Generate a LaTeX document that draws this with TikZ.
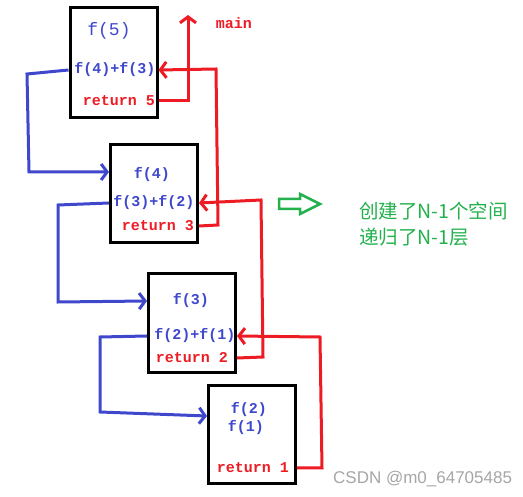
\documentclass[tikz,border=0pt]{standalone}
\usepackage{fontspec}
\setmonofont{Liberation Mono}
\setsansfont{Liberation Sans}
\newfontfamily\cjk{Noto Sans CJK SC}
\usetikzlibrary{arrows.meta}
\definecolor{penblue}{RGB}{63,72,204}
\definecolor{penred}{RGB}{237,28,36}
\definecolor{pengreen}{RGB}{34,177,76}

\begin{document}
\begin{tikzpicture}[x=1pt,y=-1pt,
    frame/.style={draw,line width=3pt,minimum width=87pt,inner sep=0pt},
    code/.style={font=\ttfamily\bfseries\fontsize{15}{17}\selectfont,inner sep=0pt},
    callline/.style={penblue,line width=3pt,-{Straight Barb[length=6pt,width=16pt]}},
    retline/.style={penred,line width=3pt,-{Straight Barb[length=6pt,width=16pt]}}]
  \useasboundingbox (0,0) rectangle (523,497);

  %stack frames
  \node[frame,minimum height=110pt] (b5) at (113.5,63) {};
  \node[frame,minimum height=98pt] (b4) at (154,194) {};
  \node[frame,minimum height=99pt] (b3) at (192,323.5) {};
  \node[frame,minimum height=98pt] (b2) at (252,435) {};

  %texts in the frames
  \node[code,penblue,font=\ttfamily\fontsize{18}{20}\selectfont] (t5) at (109,31) {f(5)};
  \node[code,penblue] (c5) at (115,70) {f(4)+f(3)};
  \node[code,penred] (r5) at (119,101) {return 5};
  \node[code,penblue] (t4) at (152,175) {f(4)};
  \node[code,penblue] (c4) at (154,203) {f(3)+f(2)};
  \node[code,penred] (r4) at (158,226) {return 3};
  \node[code,penblue] (t3) at (191,301) {f(3)};
  \node[code,penblue] (c3) at (195,336) {f(2)+f(1)};
  \node[code,penred] (r3) at (192,358) {return 2};
  \node[code,penblue] (t2) at (249,410) {f(2)};
  \node[code,penblue] (c2) at (246,428) {f(1)};
  \node[code,penred] (r2) at (253,468) {return 1};
  \node[code,penred] (main) at (234,23) {main};

  %calls
  \draw[callline] (b5.west |- c5) -- (27,74) -- (29,172) -- (b4.west |- 0,172);
  \draw[callline] (b4.west |- c4) -- (58,205) -- (58,302) -- (b3.west |- t3);
  \draw[callline] (b3.west |- c3) -- (100,337) -- (100,412) -- (b2.west |- 0,416);

  %returns
  \draw[retline] (b5.east |- r5) -| (188,15);
  \draw[retline] (b4.east |- r4) -- (218,225) -- (216,69) -- (b5.east |- c5);
  \draw[retline] (b3.east |- r3) -- (263,357) -- (261,200) -- (b4.east |- c4);
  \draw[retline] (b2.east |- r2) -- (322,468) -- (320,337) -- (b3.east |- c3);

  %note
  \draw[pengreen,line width=2.5pt,line join=miter] (279,199) -- (300,199) -- (300,194)
    -- (320,204) -- (300,214) -- (300,209) -- (279,209) -- cycle;
  \node[pengreen,anchor=west,inner sep=0pt,font=\cjk\fontsize{19.5}{22}\selectfont] (n1) at (359,211) {创建了N-1个空间};
  \node[pengreen,anchor=west,inner sep=0pt,font=\cjk\fontsize{19.5}{22}\selectfont] (n2) at (359,237) {递归了N-1层};

  \node[gray!70,anchor=west,inner sep=0pt,font=\sffamily\fontsize{17}{19}\selectfont] (wm) at (333,479) {CSDN @m0\_64705485};
\end{tikzpicture}
\end{document}
